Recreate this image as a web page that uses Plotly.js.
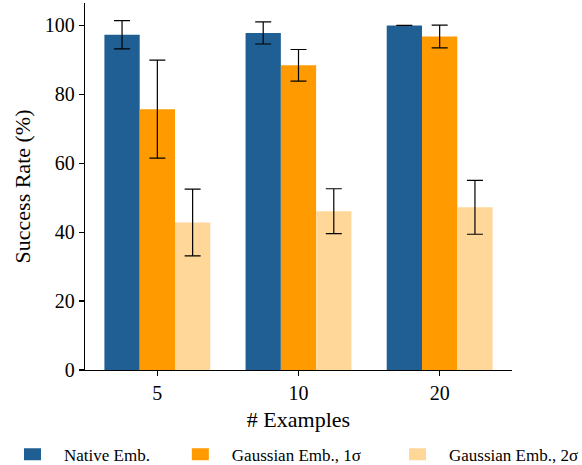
<!DOCTYPE html>
<html>
<head>
<meta charset="utf-8">
<script src="https://cdn.plot.ly/plotly-3.0.1.min.js"></script>
<style>html,body{margin:0;padding:0;background:#fff;}#chart{width:582px;height:465px;}</style>
</head>
<body>
<div id="chart"></div>
<script>
const categories = ["5", "10", "20"];
const seriesNames = ["Native Emb.", "Gaussian Emb., 1σ", "Gaussian Emb., 2σ"];
const nativeVals = [97.3, 97.8, 100.0];
const nativeErr = [4.1, 3.2, 0.0];
const gauss1Vals = [75.7, 88.4, 96.8];
const gauss1Err = [14.2, 4.6, 3.3];
const gauss2Vals = [42.8, 46.1, 47.2];
const gauss2Err = [9.7, 6.5, 7.8];
const colors = ["#1f5f93", "#ff9a00", "#ffd798"];

const FONT = "Liberation Serif";
const vals = [nativeVals, gauss1Vals, gauss2Vals];
const errs = [nativeErr, gauss1Err, gauss2Err];
const legendIds = ["legend", "legend2", "legend3"];

const data = vals.map((v, i) => ({
  type: "bar",
  name: seriesNames[i],
  x: categories,
  y: v,
  marker: {color: colors[i]},
  error_y: {type: "data", array: errs[i], visible: true, color: "#000", thickness: 1.2, width: 8},
  legend: legendIds[i]
}));

const legendBase = {
  orientation: "h", xref: "container", yref: "container",
  xanchor: "left", yanchor: "middle", y: 0.022,
  font: {family: FONT, size: 17, color: "#000"},
  bgcolor: "rgba(0,0,0,0)", itemclick: false
};

const layout = {
  width: 582, height: 465,
  margin: {l: 85, r: 70, t: 3, b: 95},
  paper_bgcolor: "#fff", plot_bgcolor: "#fff",
  font: {family: FONT, size: 20, color: "#000"},
  barmode: "group", bargap: 0.25, bargroupgap: 0,
  xaxis: {
    type: "category", range: [-0.5125, 2.5125],
    showline: true, linecolor: "#000", linewidth: 1.2, mirror: false,
    ticks: "outside", ticklen: 5, tickwidth: 1.2, tickcolor: "#000",
    showgrid: false, zeroline: false,
    tickfont: {family: FONT, size: 20, color: "#000"},
    title: {text: "# Examples", font: {family: FONT, size: 22, color: "#000"}, standoff: 8}
  },
  yaxis: {
    range: [0, 106.5], tickvals: [0, 20, 40, 60, 80, 100],
    showline: true, linecolor: "#000", linewidth: 1.2,
    ticks: "outside", ticklen: 5, tickwidth: 1.2, tickcolor: "#000",
    showgrid: false, zeroline: false,
    tickfont: {family: FONT, size: 20, color: "#000"},
    title: {text: "Success Rate (%)", font: {family: FONT, size: 22, color: "#000"}, standoff: 8}
  },
  legend: Object.assign({}, legendBase, {x: 0.0412}),
  legend2: Object.assign({}, legendBase, {x: 0.3296}),
  legend3: Object.assign({}, legendBase, {x: 0.7028}),
  showlegend: true
};

Plotly.newPlot("chart", data, layout, {displayModeBar: false, staticPlot: true}).then(function (gd) {
  // widen legend swatches to match the reference's long rectangular patches
  gd.querySelectorAll(".legendpoints path").forEach(function (p) {
    p.setAttribute("d", "M-3,6H-38V-6H-3Z");
  });
});
</script>
</body>
</html>
